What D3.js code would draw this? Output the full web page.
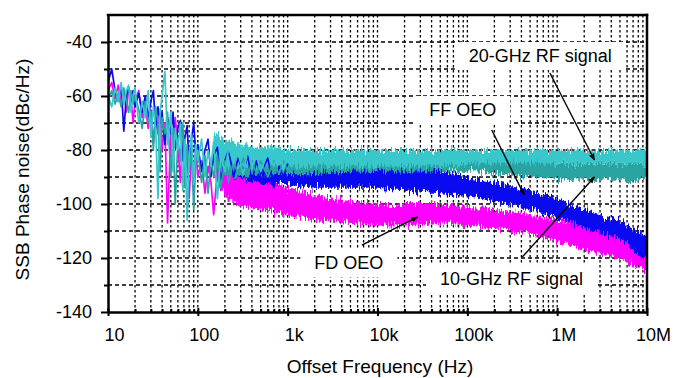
<!DOCTYPE html>
<html>
<head>
<meta charset="utf-8">
<script src="https://cdn.jsdelivr.net/npm/d3@7"></script>
<style>
  body { margin: 0; background: #fff; }
  text { font-family: "Liberation Sans", Arial, sans-serif; fill: #000; }
</style>
</head>
<body>
<svg id="chart" width="675" height="378"></svg>
<script>
// offset frequency grid of the spiky low-frequency traces (Hz)
const freqTrace = [10, 11, 12, 13, 14, 15, 16, 17, 18, 19,
  20, 22, 24, 26, 28, 30, 32, 34, 36, 38,
  40, 43, 46, 50, 53, 56, 60, 64, 68, 72,
  76, 80, 85, 90, 95, 100, 110, 120, 130, 140,
  150, 165, 180, 200, 220, 250, 280, 320, 360, 400,
  450, 500, 600, 700, 800, 900, 1e3];

// phase noise, dBc/Hz
const fdTrace = [-58, -55, -61, -56, -63, -58, -66, -57, -60, -70,
  -62, -58, -68, -63, -72, -65, -77, -68, -74, -66,
  -80, -70, -107, -74, -84, -68, -78, -92, -74, -86,
  -80, -98, -82, -88, -80, -90, -84, -96, -86, -92,
  -104, -88, -95, -90, -99, -92, -97, -91, -100, -94,
  -98, -93, -101, -95, -99, -94, -102];

const ffTrace = [-55, -50, -58, -62, -56, -73, -60, -57, -62, -58,
  -64, -59, -66, -60, -68, -62, -58, -72, -64, -70,
  -66, -78, -68, -74, -66, -80, -72, -69, -84, -75,
  -71, -86, -76, -70, -82, -78, -88, -80, -76, -90,
  -82, -79, -92, -84, -80, -90, -83, -88, -82, -92,
  -84, -89, -83, -94, -86, -90, -85];

const rf10Trace = [-62, -58, -63, -59, -64, -57, -62, -66, -58, -63,
  -60, -65, -72, -62, -70, -66, -80, -64, -70, -88,
  -68, -74, -66, -90, -72, -100, -76, -84, -70, -94,
  -78, -88, -80, -102, -84, -80, -92, -82, -96, -84,
  -90, -82, -94, -84, -92, -84, -89, -83, -90, -84,
  -89, -84, -90, -84, -89, -84, -88];

const rf20Trace = [-60, -64, -57, -62, -55, -63, -58, -56, -66, -60,
  -57, -70, -62, -68, -58, -75, -64, -72, -98, -66,
  -60, -51, -78, -66, -88, -72, -80, -70, -95, -76,
  -106, -82, -74, -92, -78, -84, -76, -90, -80, -86,
  -77, -98, -82, -88, -79, -85, -81, -89, -80, -86,
  -82, -88, -81, -86, -80, -87, -82];

// upper / lower edges of the dense noise bands
const freqBand = [150, 200, 300, 500, 700, 1e3, 2e3, 5e3, 1e4, 2e4, 5e4,
  1e5, 2e5, 5e5, 1e6, 2e6, 5e6, 1e7];
const fdHi   = [-84, -84, -90, -92, -93, -94, -97, -99, -100, -100, -100, -101, -102, -104, -106, -108, -111, -116];
const fdLo   = [-90, -96, -101, -102, -103, -104, -106, -107, -108, -108, -107, -108, -109, -111, -114, -117, -120, -125];
const ffHi   = [-80, -78, -82, -84, -85, -86, -86, -87, -87, -87, -88, -90, -92, -95, -98, -102, -106, -112];
const ffLo   = [-84, -88, -91, -92, -93, -93, -94, -94, -94, -95, -96, -97, -99, -102, -105, -109, -113, -121];
const rf10Hi = [-76, -79, -81, -82, -82, -83, -83, -83, -83, -83, -83, -83, -84, -84, -85, -85, -85, -85];
const rf10Lo = [-86, -89, -90, -89, -89, -89, -89, -88, -88, -88, -88, -88, -89, -90, -91, -91, -91, -91];
const rf20Hi = [-74, -76, -78, -79, -79, -80, -80, -80, -80, -80, -80, -80, -80, -80, -80, -80, -80, -80];
const rf20Lo = [-82, -86, -87, -86, -86, -86, -86, -86, -86, -86, -86, -85, -85, -85, -85, -85, -85, -85];

const yMajor = [-140, -120, -100, -80, -60, -40];
const yMinor = [-130, -110, -90, -70, -50];
const xDecades = [10, 100, 1e3, 1e4, 1e5, 1e6, 1e7];
const xLabels = ['10', '100', '1k', '10k', '100k', '1M', '10M'];

const series = [
  {name: 'FD OEO', color: '#ff00ff', trace: fdTrace, hi: fdHi, lo: fdLo},
  {name: 'FF OEO', color: '#0a0af0', trace: ffTrace, hi: ffHi, lo: ffLo},
  {name: '10-GHz RF signal', color: '#2aa3a3', trace: rf10Trace, hi: rf10Hi, lo: rf10Lo},
  {name: '20-GHz RF signal', color: '#38c8cc', trace: rf20Trace, hi: rf20Hi, lo: rf20Lo},
];

// annotation text positions and arrows, in data units
const notes = [
  {text: '20-GHz RF signal', f: 6.5e5, v: -45.2, from: [8.3e5, -51.5], to: [2.6e6, -83.7]},
  {text: 'FF OEO', f: 8.9e4, v: -65.2, from: [1.87e5, -72.6], to: [4.3e5, -96.7]},
  {text: 'FD OEO', f: 4.8e3, v: -121.9, from: [6.7e3, -115.2], to: [2.8e4, -104.8]},
  {text: '10-GHz RF signal', f: 3.1e5, v: -127.8, from: [4.1e5, -119.6], to: [2.6e6, -90]},
];

const svg = d3.select('#chart');
const x = d3.scaleLog().domain([10, 1e7]).range([108, 647]);
const y = d3.scaleLinear().domain([-140, -30]).range([312, 15]);

const defs = svg.append('defs');
defs.append('clipPath').attr('id', 'plot-clip')
  .append('rect').attr('x', x.range()[0]).attr('y', y.range()[1])
  .attr('width', x.range()[1] - x.range()[0]).attr('height', y.range()[0] - y.range()[1]);

defs.append('marker').attr('id', 'arrow')
  .attr('viewBox', '0 0 10 10').attr('refX', 9).attr('refY', 5)
  .attr('markerWidth', 7).attr('markerHeight', 7).attr('markerUnits', 'userSpaceOnUse')
  .attr('orient', 'auto')
  .append('path').attr('d', 'M0,1 L10,5 L0,9 z').attr('fill', '#000');

// ragged edge texture for the dense noise bands
const rough = defs.append('filter').attr('id', 'rough')
  .attr('filterUnits', 'userSpaceOnUse').attr('x', 0).attr('y', 0).attr('width', 675).attr('height', 378)
  .attr('color-interpolation-filters', 'sRGB');
rough.append('feTurbulence').attr('type', 'fractalNoise')
  .attr('baseFrequency', '0.7 0.08').attr('numOctaves', 2).attr('seed', 3).attr('result', 'tex');
rough.append('feColorMatrix').attr('in', 'tex').attr('type', 'matrix')
  .attr('values', '0 0 0 0 0.5  0 1 0 0 0  0 0 0 0 0  0 0 0 0 1').attr('result', 'shift');
rough.append('feDisplacementMap').attr('in', 'SourceGraphic').attr('in2', 'shift')
  .attr('scale', 16).attr('xChannelSelector', 'R').attr('yChannelSelector', 'G');

/* GRID */
const minorFreqs = [];
xDecades.slice(0, -1).forEach(dec => {
  for (let m = 1; m < 10; m++) minorFreqs.push(dec * m);
});
const grid = svg.append('g').attr('class', 'grid');
grid.selectAll('line.vgrid').data(minorFreqs.filter(f => f > 10)).enter()
  .append('line').attr('class', 'vgrid')
  .attr('x1', d => x(d)).attr('x2', d => x(d))
  .attr('y1', y(-30)).attr('y2', y(-140))
  .attr('stroke', '#000').attr('stroke-width', 1.3).attr('stroke-dasharray', '2.5,2.5');
grid.selectAll('line.hgrid').data(d3.range(-130, -30, 10)).enter()
  .append('line').attr('class', 'hgrid')
  .attr('x1', x(10)).attr('x2', x(1e7))
  .attr('y1', d => y(d)).attr('y2', d => y(d))
  .attr('stroke', '#000').attr('stroke-width', 1.3).attr('stroke-dasharray', '4,3');

/* TRACES */
const plot = svg.append('g').attr('clip-path', 'url(#plot-clip)');
const area = d3.area().x(d => x(d.f)).y0(d => y(d.lo)).y1(d => y(d.hi));
const line = d3.line().x(d => x(d.f)).y(d => y(d.v));
// dense bands first, spiky low-frequency traces above them
series.forEach(s => {
  const band = freqBand.map((f, i) => ({f, hi: s.hi[i], lo: s.lo[i]}));
  plot.append('g').attr('filter', 'url(#rough)')
    .append('path').datum(band).attr('d', area).attr('fill', s.color);
});
series.forEach(s => {
  const pts = freqTrace.map((f, i) => ({f, v: s.trace[i]}));
  plot.append('path').datum(pts).attr('d', line)
    .attr('fill', 'none').attr('stroke', s.color).attr('stroke-width', 1.7)
    .attr('stroke-linejoin', 'round');
});

/* ANNOTATIONS */
const noteG = svg.append('g').attr('class', 'notes');
notes.forEach(n => {
  const g = noteG.append('g');
  const rect = g.append('rect').attr('fill', '#fff');
  const t = g.append('text').attr('x', x(n.f)).attr('y', y(n.v))
    .attr('text-anchor', 'middle').attr('dominant-baseline', 'central')
    .style('font-size', '18px').text(n.text);
  const bb = t.node().getBBox();
  rect.attr('x', bb.x - 14).attr('y', bb.y - 4).attr('width', bb.width + 28).attr('height', bb.height + 8);
  g.append('line')
    .attr('x1', x(n.from[0])).attr('y1', y(n.from[1]))
    .attr('x2', x(n.to[0])).attr('y2', y(n.to[1]))
    .attr('stroke', '#000').attr('stroke-width', 1.4).attr('marker-end', 'url(#arrow)');
});

/* AXES */
const yAxisG = svg.append('g').attr('transform', `translate(${x(10)},0)`)
  .call(d3.axisLeft(y).tickValues(yMajor).tickSize(7).tickSizeOuter(0).tickFormat(d => String(d)));
yAxisG.select('.domain').attr('stroke-width', 2.5);
yAxisG.selectAll('.tick line').attr('stroke-width', 2);
yAxisG.selectAll('.tick text').attr('x', -16).style('font-size', '18px')
  .style('font-family', '"Liberation Sans", Arial, sans-serif');
svg.append('g').attr('transform', `translate(${x(10)},0)`)
  .call(d3.axisLeft(y).tickValues(yMinor).tickSize(4).tickFormat(''))
  .call(g => g.select('.domain').remove())
  .selectAll('.tick line').attr('stroke-width', 2);

const xAxisG = svg.append('g').attr('transform', `translate(0,${y(-140)})`)
  .call(d3.axisBottom(x).tickValues(xDecades).tickSize(4).tickSizeOuter(0)
    .tickFormat((d, i) => xLabels[i]));
xAxisG.select('.domain').attr('stroke-width', 2.5);
xAxisG.selectAll('.tick line').attr('y1', -4).attr('stroke-width', 2);
xAxisG.selectAll('.tick text').attr('dx', 6).attr('y', 16).style('font-size', '18px')
  .style('font-family', '"Liberation Sans", Arial, sans-serif');
svg.append('g').attr('transform', `translate(0,${y(-140)})`)
  .call(d3.axisBottom(x).tickValues(minorFreqs.filter(f => !xDecades.includes(f))).tickSize(-3).tickFormat(''))
  .call(g => g.select('.domain').remove())
  .selectAll('.tick line').attr('stroke-width', 2);

// top and right frame
svg.append('line').attr('x1', x(10)).attr('x2', x(1e7)).attr('y1', y(-30)).attr('y2', y(-30))
  .attr('stroke', '#000').attr('stroke-width', 2.5).attr('stroke-linecap', 'square');
svg.append('line').attr('x1', x(1e7)).attr('x2', x(1e7)).attr('y1', y(-30)).attr('y2', y(-140))
  .attr('stroke', '#000').attr('stroke-width', 2.5).attr('stroke-linecap', 'square');

/* AXIS TITLES */
svg.append('text').attr('transform', `translate(22,${(y(-30) + y(-140)) / 2 + 6}) rotate(-90)`)
  .attr('text-anchor', 'middle').attr('dominant-baseline', 'central')
  .style('font-size', '19px').text('SSB Phase noise(dBc/Hz)');
svg.append('text').attr('x', 380).attr('y', 373)
  .attr('text-anchor', 'middle').style('font-size', '19px').text('Offset Frequency (Hz)');
</script>
</body>
</html>
